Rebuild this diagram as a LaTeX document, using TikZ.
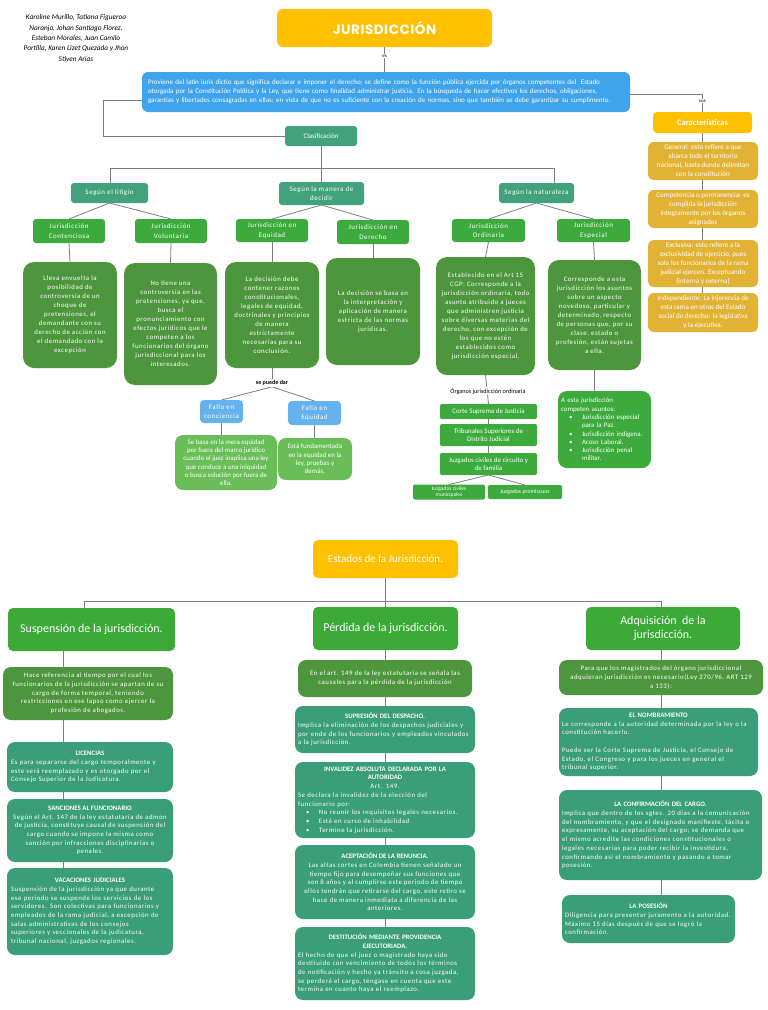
\documentclass[tikz,border=0pt]{standalone}
\usepackage{fontspec}
\setmainfont{Carlito}
\newfontfamily\spc{Carlito}[LetterSpace=8]
\newfontfamily\ttlfont{Poppins}[LetterSpace=4]
\usetikzlibrary{backgrounds}
\definecolor{cYel}{RGB}{255,192,0}
\definecolor{cBlue}{RGB}{64,164,236}
\definecolor{cTeal}{RGB}{66,162,124}
\definecolor{cGreen}{RGB}{60,170,60}
\definecolor{cDark}{RGB}{78,150,62}
\definecolor{cLBlue}{RGB}{100,178,238}
\definecolor{cLGreen}{RGB}{106,190,88}
\definecolor{cGold}{RGB}{226,178,52}
\definecolor{cHead}{RGB}{60,170,55}
\definecolor{cTeal2}{RGB}{58,158,120}
\definecolor{cLine}{RGB}{125,125,135}
\newcommand\Bx[7]{%
 \pgfmathsetmacro\BxW{#5-#3}%
 \pgfmathsetmacro\BxH{#6-#4}%
 \pgfmathsetmacro\BxX{(#3+#5)/2}%
 \pgfmathsetmacro\BxY{(#4+#6)/2}%
 \node[#2, minimum width=\BxW pt, minimum height=\BxH pt] (#1) at (\BxX,\BxY) {#7};}
\newcommand\BoxTitle[1]{\makebox[\linewidth]{\normalfont\bfseries #1}}
\newcommand\bi{\hspace*{8pt}\makebox[13pt][l]{\textbullet}}
\newcommand\bc{\hspace*{21pt}}
\tikzset{
 base/.style={draw=none, inner sep=2pt, outer sep=0pt, text=white, align=center},
 boxY/.style={base, fill=cYel, rounded corners=5pt},
 boxB/.style={base, fill=cBlue, rounded corners=6pt},
 boxT/.style={base, fill=cTeal, rounded corners=3pt},
 boxG/.style={base, fill=cGreen, rounded corners=3pt},
 boxD/.style={base, fill=cDark, rounded corners=11pt},
 boxF/.style={base, fill=cLBlue, rounded corners=4pt},
 boxL/.style={base, fill=cLGreen, rounded corners=8pt},
 boxO/.style={base, fill=cGold, rounded corners=6pt},
 boxH/.style={base, fill=cHead, rounded corners=5pt},
 boxS/.style={base, fill=cTeal2, rounded corners=8pt},
 boxE/.style={base, fill=cDark, rounded corners=8pt},
 fj/.style={font=\spc\fontsize{7}{9.5}\selectfont},
 fd/.style={font=\spc\fontsize{6.8}{9}\selectfont},
 fn/.style={font=\fontsize{6.9}{8.3}\selectfont},
 fg/.style={font=\fontsize{7.1}{9}\selectfont},
 fb/.style={font=\spc\fontsize{6.8}{8.7}\selectfont},
 fh/.style={font=\fontsize{12}{13.5}\selectfont},
 lbl/.style={fill=white, inner sep=1pt, text=black},
 ln/.style={draw=cLine, line width=0.8pt},
}
\begin{document}
\begin{tikzpicture}[x=1pt,y=-1pt]
\useasboundingbox (0,0) rectangle (768,1010);
% authors
\node[font=\itshape\fontsize{7.3}{10.4}\selectfont, align=center, text=black] (auth) at (76,38)
 {Karoline Murillo, Tatiana Figueroa\\Naranjo, Johan Santiago Florez,\\Esteban Morales, Juan Camilo\\Portilla, Karen Lizet Quezada y Jhon\\Stiven Arias};
% title
\Bx{title}{boxY, rounded corners=6pt, font=\ttlfont\bfseries\fontsize{13.5}{15}\selectfont}{277}{9}{492}{47}{JURISDICCIÓN}
\node[lbl, font=\fontsize{5}{6}\selectfont] (es) at (384.5,56) {es};
\Bx{blue}{boxB, font=\fontsize{7}{9}\selectfont, align=left, text width=476pt}{142}{72}{630}{112}
 {Proviene del latín iuris dictio que significa declarar e imponer el derecho; se define como la función pública ejercida por órganos competentes del \ Estado\\otorgada por la Constitución Política y la Ley, que tiene como finalidad administrar justicia. En la búsqueda de hacer efectivos los derechos, obligaciones,\\garantías y libertades consagradas en ellas; en vista de que no es suficiente con la creación de normas, sino que también se debe garantizar su cumplimento.}
% classification
\Bx{clas}{boxT, font=\fontsize{7}{9}\selectfont}{285}{126}{357}{146}{Clasificación}
\Bx{sl}{boxT, fj}{71}{183}{148}{203}{Según el litigio}
\Bx{sm}{boxT, fj}{279}{182}{364}{205}{Según la manera de\\decidir}
\Bx{sn}{boxT, fj}{499}{183}{574}{203}{Según la naturaleza}
\Bx{jc}{boxG, fj}{33}{219}{105}{243}{Jurisdicción\\Contenciosa}
\Bx{jv}{boxG, fj}{135}{219}{207}{243}{Jurisdicción\\Voluntaria}
\Bx{je}{boxG, fj}{236}{219}{308}{242}{Jurisdicción en\\Equidad}
\Bx{jd}{boxG, fj}{337}{220}{409}{244}{Jurisdicción en\\Derecho}
\Bx{jo}{boxG, fj}{452}{219}{525}{242}{Jurisdicción\\Ordinaria}
\Bx{jes}{boxG, fj}{557}{219}{630}{242}{Jurisdicción\\Especial}
\Bx{dc}{boxD, fd}{23}{262}{117}{368}{Lleva envuelta la\\posibilidad de\\controversia de un\\choque de\\pretensiones, el\\demandante con su\\derecho de acción con\\el demandado con la\\excepción}
\Bx{dv}{boxD, fd}{124}{263}{217}{385}{No tiene una\\controversia en las\\pretensiones, ya que,\\busca el\\pronunciamiento con\\efectos jurídicos que le\\competen a los\\funcionarios del órgano\\jurisdiccional para los\\interesados.}
\Bx{de}{boxD, fd}{225}{262}{319}{368}{La decisión debe\\contener razones\\constitucionales,\\legales de equidad,\\doctrinales y principios\\de manera\\estrictamente\\necesarias para su\\conclusión.}
\Bx{dd}{boxD, fd}{326}{258}{420}{365}{La decisión se basa en\\la interpretación y\\aplicación de manera\\estricta de las normas\\jurídicas.}
\Bx{do}{boxD, fd}{436}{257}{535}{375}{Establecido en el Art 15\\CGP: Corresponde a la\\jurisdicción ordinaria, todo\\asunto atribuido a jueces\\que administren justicia\\sobre diversas materias del\\derecho, con excepción de\\los que no estén\\establecidos como\\jurisdicción especial.}
\Bx{des}{boxD, fd}{548}{260}{641}{370}{Corresponde a esta\\jurisdicción los asuntos\\sobre un aspecto\\novedoso, particular y\\determinado, respecto\\de personas que, por su\\clase, estado o\\profesión, están sujetas\\a ella.}
% fallos
\node[lbl, font=\bfseries\fontsize{6}{7}\selectfont] (spd) at (272,383) {se puede dar};
\Bx{fc}{boxF, fj}{200}{400}{243}{423}{Fallo en\\conciencia}
\Bx{fe}{boxF, fj}{288}{401}{341}{425}{Fallo en\\Equidad}
\Bx{fcd}{boxL, fn}{175}{435}{277}{490}{Se basa en la mera equidad\\por fuera del marco jurídico\\cuando el juez inaplica una ley\\que conduce a una iniquidad\\o busca solución por fuera de\\ella.}
\Bx{fed}{boxL, fn}{278}{438}{352}{480}{Está fundamentada\\en la equidad en la\\ley, pruebas y\\demás.}
% organos
\node[lbl, font=\fontsize{6.2}{7}\selectfont] (org) at (488,391) {Órganos jurisdicción ordinaria};
\Bx{corte}{boxG, rounded corners=2pt, fn}{440}{404}{537}{419}{Corte Suprema de Justicia}
\Bx{trib}{boxG, rounded corners=2pt, fn}{440}{424}{537}{446}{Tribunales Superiores de\\Distrito Judicial}
\Bx{juz}{boxG, rounded corners=2pt, fn}{440}{453}{537}{475}{Juzgados civiles de circuito y\\de familia}
\Bx{mun}{boxG, rounded corners=2pt, font=\fontsize{5.5}{6.3}\selectfont}{413}{485}{485}{499}{Juzgados civiles\\municipales}
\Bx{prom}{boxG, rounded corners=2pt, font=\fontsize{5.8}{6.5}\selectfont}{488}{485}{562}{499}{Juzgados promiscuos}
\Bx{lst}{boxG, rounded corners=9pt, fn, align=left, text width=87pt}{558}{391}{651}{468}{A esta jurisdicción\\competen asuntos:\\\bi Jurisdicción especial\\\bc para la Paz.\\\bi Jurisdicción indígena.\\\bi Acoso Laboral.\\\bi Jurisdicción penal\\\bc militar.}
% caracteristicas
\node[lbl, font=\fontsize{5}{6}\selectfont] (sus) at (702.5,101) {sus};
\Bx{carac}{boxY, rounded corners=4pt, font=\bfseries\fontsize{8.5}{10}\selectfont}{653}{112}{752}{133}{Características}
\Bx{gen}{boxO, fg}{648}{142}{758}{180}{General: esto refiere a que\\abarca todo el territorio\\nacional, hasta donde delimitan\\con la constitución}
\Bx{comp}{boxO, fg}{648}{190}{758}{228}{Competencia o permanencia: es\\cumplida la jurisdicción\\íntegramente por los órganos\\asignados}
\Bx{excl}{boxO, fg}{648}{240}{758}{287}{Exclusiva: esto refiere a la\\exclusividad de ejercicio, pues\\solo los funcionarios de la rama\\judicial ejercen. Exceptuando\\(interna y externa)}
\Bx{indep}{boxO, fg}{648}{293}{758}{332}{Independiente: La injerencia de\\esta rama en otras del Estado\\social de derecho: la legislativa\\y la ejecutiva.}
% ===== estados =====
\Bx{estados}{boxY, rounded corners=5pt, font=\fontsize{11}{12}\selectfont}{313}{540}{458}{578}{Estados de la Jurisdicción.}
\Bx{susp}{boxH, fh}{8}{608}{175}{651}{Suspensión de la jurisdicción.}
\Bx{perd}{boxH, fh}{313}{607}{458}{650}{Pérdida de la jurisdicción.}
\Bx{adq}{boxH, fh}{586}{607}{740}{650}{Adquisición\ \ de la\\jurisdicción.}
\coordinate (busL) at (84,601);
\coordinate (busR) at (661,601);
% suspension column
\Bx{sd}{boxE, fb}{3}{667}{173}{720}{Hace referencia al tiempo por el cual los\\funcionarios de la jurisdicción se apartan de su\\cargo de forma temporal, teniendo\\restricciones en ese lapso como ejercer la\\profesión de abogados.}
\Bx{lic}{boxS, fb, align=left, text width=158pt}{7}{742}{173}{792}{\BoxTitle{LICENCIAS}\\Es para separarse del cargo temporalmente y\\este será reemplazado y es otorgado por el\\Consejo Superior de la Judicatura.}
\Bx{san}{boxS, fb}{7}{799}{173}{862}{{\normalfont\bfseries SANCIONES AL FUNCIONARIO}\\Según el Art. 147 de la ley estatutaria de admon\\de justicia, constituye causal de suspensión del\\cargo cuando se impone la misma como\\sanción por infracciones disciplinarias o\\penales.}
\Bx{vac}{boxS, fb, align=left, text width=158pt}{7}{868}{173}{955}{\BoxTitle{VACACIONES JUDICIALES}\\Suspensión de la jurisdicción ya que durante\\ese periodo se suspende los servicios de los\\servidores. Son colectivas para funcionarios y\\empleados de la rama judicial, a excepción de\\salas administrativas de los consejos\\superiores y seccionales de la judicatura,\\tribunal nacional, juzgados regionales.}
% perdida column
\Bx{pd}{boxE, fb}{298}{660}{472}{697}{En el art. 149 de la ley estatutaria se señala las\\causales para la pérdida de la jurisdicción}
\Bx{sup}{boxS, fb, align=left, text width=174pt}{295}{706}{475}{753}{\BoxTitle{SUPRESIÓN DEL DESPACHO.}\\Implica la eliminación de los despachos judiciales y\\por ende de los funcionarios y empleados vinculados\\a la jurisdicción.}
\Bx{inv}{boxS, fb, align=left, text width=174pt}{295}{762}{475}{838}{\BoxTitle{INVALIDEZ ABSOLUTA DECLARADA POR LA}\\\BoxTitle{AUTORIDAD}\\\makebox[\linewidth]{Art. 149.}\\Se declara la invalidez de la elección del\\funcionario por:\\\bi No reunir los requisitos legales necesarios.\\\bi Está en curso de inhabilidad\\\bi Termine la jurisdicción.}
\Bx{acep}{boxS, fb}{295}{845}{475}{919}{{\normalfont\bfseries ACEPTACIÓN DE LA RENUNCIA.}\\Las altas cortes en Colombia tienen señalado un\\tiempo fijo para desempeñar sus funciones que\\son 8 años y al cumplirse este periodo de tiempo\\ellos tendrán que retirarse del cargo, este retiro se\\hace de manera inmediata a diferencia de las\\anteriores.}
\Bx{dest}{boxS, fb, align=left, text width=174pt}{295}{927}{475}{1000}{\BoxTitle{DESTITUCIÓN MEDIANTE PROVIDENCIA}\\\BoxTitle{EJECUTORIADA.}\\El hecho de que el juez o magistrado haya sido\\destituido con vencimiento de todos los términos\\de notificación y hecho ya tránsito a cosa juzgada,\\se perderá el cargo, téngase en cuenta que este\\termina en cuanto haya el reemplazo.}
% adquisicion column
\Bx{ad}{boxE, fb}{559}{660}{763}{695}{Para que los magistrados del órgano jurisdiccional\\adquieran jurisdicción es necesario(Ley 270/96, ART 129\\a 133):}
\Bx{nom}{boxS, fb, align=left, text width=193pt}{559}{708}{758}{776}{\BoxTitle{EL NOMBRAMIENTO}\\Le corresponde a la autoridad determinada por la ley o la\\constitución hacerlo.\\[8.7pt]Puede ser la Corte Suprema de Justicia, el Consejo de\\Estado, el Congreso y para los jueces en general el\\tribunal superior.}
\Bx{conf}{boxS, fb, align=left, text width=197pt}{559}{790}{762}{880}{\BoxTitle{LA CONFIRMACIÓN DEL CARGO.}\\Implica que dentro de los sgtes. 20 días a la comunicación\\del nombramiento, y que el designado manifieste, tácita o\\expresamente, su aceptación del cargo; se demanda que\\el mismo acredite las condiciones constitucionales o\\legales necesarias para poder recibir la investidura,\\confirmando así el nombramiento y pasando a tomar\\posesión.}
\Bx{pos}{boxS, fb, align=left, text width=167pt}{562}{895}{735}{943}{\BoxTitle{LA POSESIÓN}\\Diligencia para presentar juramento a la autoridad.\\Máximo 15 días después de que se logró la\\confirmación.}
% ===== connectors =====
\begin{pgfonlayer}{background}
\fill[white] (0,0) rectangle (768,1010);
\draw[ln] (title.south) -- (title.south |- blue.north);
\draw[ln] ([yshift=-8pt]blue.west) -- ++(-39,0) |- (clas.west);
\draw[ln] ([yshift=-2pt]blue.east) -| (carac.north);
\draw[ln] (carac.south) -- (carac.south |- indep.north);
\coordinate (tbL) at (110,168);
\coordinate (tbR) at (554,168);
\draw[ln] (tbL) -- (tbR);
\draw[ln] (clas.south) -- (clas.south |- tbL);
\draw[ln] (tbL) -- (tbL |- sl.north);
\draw[ln] (sm.north) -- (sm.north |- tbL);
\draw[ln] (tbR) -- (tbR |- sn.north);
\draw[ln] (sl.south) -- (jc.north);
\draw[ln] (sl.south) -- (jv.north);
\draw[ln] (sm.south) -- (je.north);
\draw[ln] (sm.south) -- (jd.north);
\draw[ln] (sn.south) -- (jo.north);
\draw[ln] (sn.south) -- (jes.north);
\draw[ln] (jc.south) -- (dc.north);
\draw[ln] (jv.south) -- (dv.north);
\draw[ln] (je.south) -- (de.north);
\draw[ln] (jd.south) -- (dd.north);
\draw[ln] (jo.south) -- (do.north);
\draw[ln] (jes.south) -- (des.north);
\draw[ln] (de.south) -- (spd.north);
\draw[ln] (spd.south) -- (fc.north);
\draw[ln] (spd.south) -- (fe.north);
\draw[ln] (fc.south) -- (fc.south |- fcd.north);
\draw[ln] (fe.south) -- (fe.south |- fed.north);
\draw[ln] (do.south) -- (corte.north);
\draw[ln] (corte.south) -- (trib.north);
\draw[ln] (trib.south) -- (juz.north);
\draw[ln] (juz.south) -- (mun.north);
\draw[ln] (juz.south) -- (prom.north);
\draw[ln] (des.south) -- (des.south |- lst.north);
% bottom
\draw[ln] (busL) -- (busR);
\draw[ln] (estados.south) -- (estados.south |- perd.north);
\draw[ln] (busL) -- (busL |- susp.north);
\draw[ln] (busR) -- (busR |- adq.north);
\draw[ln] (63,0 |- susp.south) -- (63,0 |- vac.north);
\draw[ln] (perd.south) -- (perd.south |- dest.north);
\draw[ln] (661,0 |- adq.south) -- (661,0 |- pos.north);
\end{pgfonlayer}
\end{tikzpicture}
\end{document}
